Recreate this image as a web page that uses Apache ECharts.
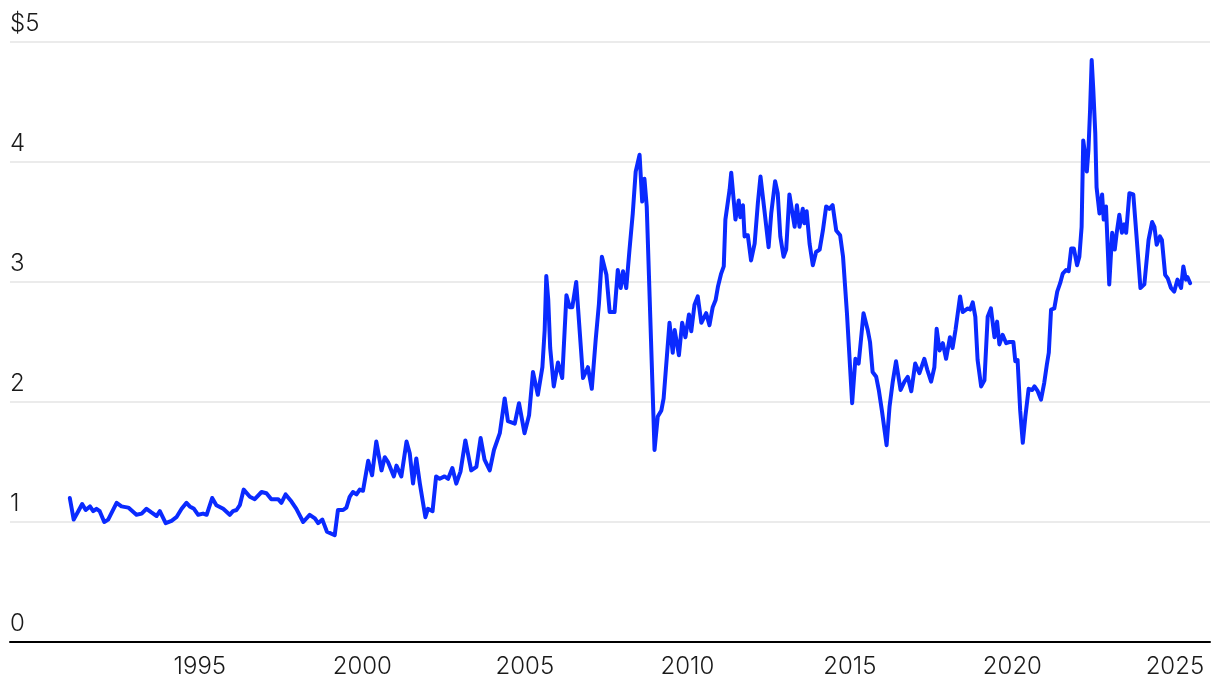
<!DOCTYPE html>
<html><head><meta charset="utf-8">
<script src="https://cdn.jsdelivr.net/npm/echarts@6/dist/echarts.min.js"></script>
<style>html,body{margin:0;padding:0;background:#fff}#c{width:1220px;height:690px}</style>
</head><body><div id="c"></div>
<script>
// Decimal years and prices ($ per gallon)
const dates = [
1991.00,1991.12,1991.26,1991.38,1991.49,1991.62,1991.72,1991.82,1991.92,
1992.06,1992.18,1992.44,1992.59,1992.80,
1993.05,1993.21,1993.36,1993.51,1993.67,1993.77,1993.95,
1994.13,1994.28,1994.44,1994.59,1994.69,1994.82,1994.95,
1995.10,1995.21,1995.38,1995.51,1995.72,1995.92,
1996.02,1996.13,1996.23,1996.35,1996.54,1996.69,1996.90,
1997.05,1997.20,1997.41,1997.51,1997.64,1997.82,1997.97,
1998.18,1998.38,1998.54,1998.64,1998.77,1998.91,
1999.15,1999.25,1999.41,1999.51,1999.61,1999.71,1999.82,1999.92,
2000.02,2000.18,2000.30,2000.43,2000.59,2000.69,2000.79,2000.97,
2001.05,2001.20,2001.36,2001.46,2001.56,2001.66,2001.77,2001.94,
2002.02,2002.16,2002.27,2002.38,2002.53,2002.64,2002.77,2002.89,
2003.02,2003.17,2003.35,2003.51,2003.64,2003.76,2003.92,
2004.05,2004.23,2004.38,2004.48,2004.69,2004.82,2004.99,
2005.13,2005.25,2005.40,2005.54,2005.61,2005.66,2005.72,2005.78,2005.89,
2006.02,2006.15,2006.28,2006.38,2006.46,2006.58,2006.79,2006.94,
2007.06,2007.18,2007.28,2007.37,2007.51,2007.61,2007.76,2007.86,2007.95,
2008.02,2008.12,2008.22,2008.32,2008.41,2008.53,2008.61,2008.68,2008.75,2008.99,
2009.09,2009.20,2009.27,2009.45,2009.55,2009.61,2009.74,2009.84,2009.94,
2010.05,2010.12,2010.22,2010.32,2010.43,2010.58,2010.68,2010.78,2010.87,2010.94,
2011.04,2011.12,2011.17,2011.30,2011.35,2011.48,2011.58,2011.63,2011.71,2011.76,2011.86,2011.96,
2012.07,2012.17,2012.25,2012.37,2012.50,2012.58,2012.70,2012.78,2012.86,2012.96,
2013.04,2013.14,2013.30,2013.37,2013.45,2013.55,2013.60,2013.67,2013.76,2013.86,2013.96,
2014.07,2014.17,2014.27,2014.37,2014.47,2014.58,2014.70,2014.79,2014.91,
2015.07,2015.17,2015.27,2015.42,2015.55,2015.62,2015.70,2015.81,2015.89,2015.99,
2016.13,2016.22,2016.32,2016.42,2016.56,2016.68,2016.78,2016.89,
2017.01,2017.14,2017.29,2017.38,2017.50,2017.60,2017.67,2017.76,2017.86,2017.96,
2018.08,2018.16,2018.25,2018.32,2018.39,2018.47,2018.63,2018.70,2018.78,2018.86,2018.93,
2019.04,2019.14,2019.24,2019.34,2019.45,2019.53,2019.60,2019.70,2019.81,2019.91,
2020.03,2020.09,2020.16,2020.24,2020.32,2020.40,2020.50,2020.61,2020.68,2020.78,2020.88,2020.98,
2021.06,2021.12,2021.19,2021.29,2021.38,2021.47,2021.55,2021.65,2021.73,2021.81,2021.89,2021.99,
2022.06,2022.13,2022.18,2022.25,2022.29,2022.34,2022.39,2022.44,2022.49,2022.55,2022.59,2022.68,2022.76,2022.81,2022.88,2022.98,
2023.07,2023.15,2023.21,2023.29,2023.37,2023.44,2023.50,2023.60,2023.72,2023.82,2023.94,
2024.06,2024.19,2024.30,2024.37,2024.44,2024.54,2024.60,2024.70,2024.78,2024.88,2024.98,
2025.08,2025.19,2025.26,2025.34,2025.39,2025.47
];
const prices = [
1.20,1.02,1.09,1.15,1.10,1.13,1.09,1.11,1.09,
1.00,1.02,1.16,1.13,1.12,
1.06,1.07,1.11,1.08,1.05,1.09,0.99,
1.01,1.04,1.11,1.16,1.13,1.11,1.06,
1.07,1.06,1.20,1.14,1.11,1.06,
1.09,1.10,1.14,1.27,1.21,1.19,1.25,
1.24,1.19,1.19,1.16,1.23,1.17,1.11,
1.00,1.06,1.03,0.99,1.02,0.92,
0.89,1.10,1.10,1.12,1.21,1.25,1.23,1.27,
1.26,1.51,1.39,1.67,1.43,1.54,1.50,1.38,
1.47,1.38,1.67,1.57,1.32,1.53,1.32,1.04,
1.11,1.09,1.38,1.36,1.38,1.36,1.45,1.32,
1.42,1.68,1.43,1.46,1.70,1.52,1.43,
1.60,1.74,2.03,1.84,1.82,1.99,1.74,
1.89,2.25,2.06,2.29,2.60,3.05,2.85,2.45,2.13,
2.33,2.20,2.89,2.79,2.79,3.00,2.20,2.29,
2.11,2.52,2.82,3.21,3.06,2.75,2.75,3.10,2.95,
3.09,2.95,3.27,3.57,3.92,4.06,3.67,3.86,3.63,1.60,
1.88,1.93,2.03,2.66,2.41,2.60,2.39,2.66,2.54,
2.73,2.59,2.81,2.88,2.66,2.74,2.64,2.79,2.85,2.96,
3.07,3.13,3.52,3.77,3.91,3.52,3.68,3.54,3.64,3.38,3.39,3.18,
3.32,3.66,3.88,3.60,3.29,3.57,3.84,3.74,3.38,3.21,
3.27,3.73,3.46,3.64,3.46,3.61,3.49,3.59,3.32,3.14,3.25,
3.27,3.43,3.63,3.61,3.64,3.43,3.39,3.21,2.74,
1.99,2.36,2.32,2.74,2.60,2.50,2.25,2.21,2.10,1.92,
1.64,1.96,2.17,2.34,2.10,2.17,2.21,2.09,
2.32,2.24,2.36,2.27,2.17,2.29,2.61,2.43,2.49,2.36,
2.54,2.45,2.60,2.74,2.88,2.75,2.78,2.77,2.83,2.71,2.35,
2.13,2.18,2.71,2.78,2.54,2.67,2.48,2.56,2.49,2.50,
2.50,2.34,2.35,1.93,1.66,1.88,2.11,2.10,2.13,2.09,2.02,2.16,
2.31,2.41,2.77,2.78,2.92,2.99,3.07,3.10,3.09,3.28,3.28,3.14,
3.21,3.46,4.18,4.04,3.92,4.10,4.43,4.85,4.60,4.24,3.79,3.57,3.73,3.52,3.63,2.98,
3.41,3.27,3.41,3.56,3.41,3.48,3.41,3.74,3.73,3.38,2.95,
2.98,3.35,3.50,3.46,3.31,3.38,3.35,3.06,3.03,2.95,2.92,
3.02,2.95,3.13,3.02,3.04,2.99
];
const yearTicks = [1995, 2000, 2005, 2010, 2015, 2020, 2025];
const priceTicks = ['0', '1', '2', '3', '4', '$5'];

const labelFont = { fontFamily: 'Inter', fontWeight: 300, fontSize: 24, color: '#1a1a1a' };
const chart = echarts.init(document.getElementById('c'), null, { renderer: 'canvas' });
chart.setOption({
  animation: false,
  grid: { left: 10, right: 10, top: 42, bottom: 48 },
  xAxis: {
    type: 'value', min: 1989.16, max: 2026.08,
    axisLine: { show: true, onZero: false, lineStyle: { color: '#000', width: 2 } },
    axisTick: { show: false },
    splitLine: { show: false },
    axisLabel: Object.assign({ customValues: yearTicks, formatter: v => String(v), margin: 13 }, labelFont)
  },
  yAxis: {
    type: 'value', min: 0, max: 5, interval: 1,
    axisLine: { show: false }, axisTick: { show: false },
    splitLine: { lineStyle: { color: '#e4e4e4', width: 1.5 } },
    axisLabel: Object.assign({
      inside: true, margin: 0, verticalAlign: 'bottom', align: 'left', padding: [0, 0, 6, 0],
      formatter: v => priceTicks[Math.round(v)]
    }, labelFont)
  },
  series: [{
    type: 'line', data: dates.map((d, i) => [d, prices[i]]),
    showSymbol: false, symbol: 'none',
    lineStyle: { color: '#0a2aff', width: 4, join: 'round', cap: 'round' }
  }]
});
</script></body></html>
